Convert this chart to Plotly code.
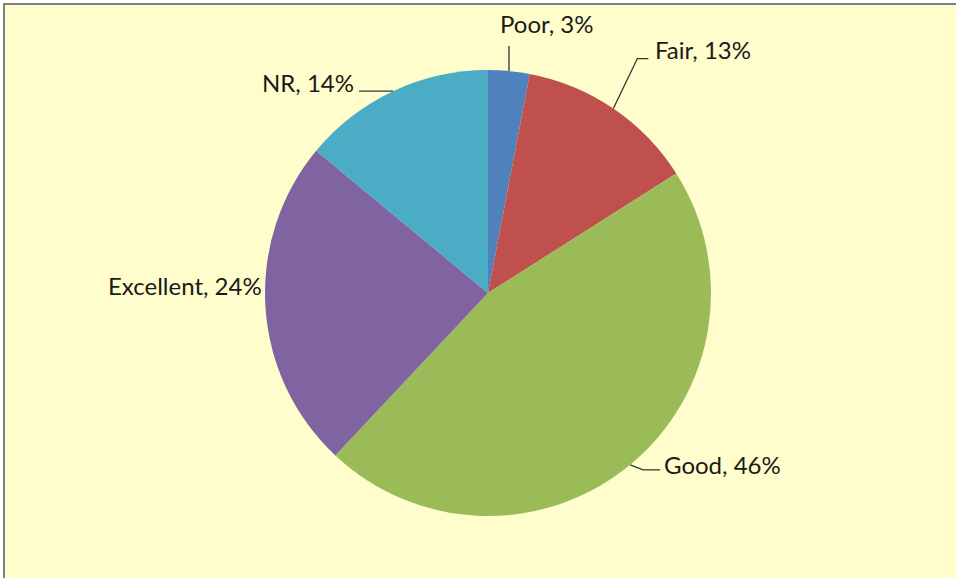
import math
import plotly.graph_objects as go

categories = ["Poor", "Fair", "Good", "Excellent", "NR"]
values = [3, 13, 46, 24, 14]
colors = ["#4F81BD", "#C0504D", "#9BBB59", "#8064A2", "#4BACC6"]

W, H = 956, 578
CX, CY, R = 488, 293, 223  # pie centre / radius in pixels


def px(x):
    return x / W


def py(y):
    return 1 - y / H


fig = go.Figure(go.Pie(
    labels=categories,
    values=values,
    marker=dict(colors=colors, line=dict(width=0)),
    sort=False,
    direction="clockwise",
    rotation=0,
    textinfo="none",
    hoverinfo="skip",
    showlegend=False,
    domain=dict(x=[px(CX - R), px(CX + R)], y=[py(CY + R), py(CY - R)]),
))

# label placement (pixel text centres) and leader-line offsets from slice edge point
label_pos = {
    "Poor": dict(tx=547, ty=24, line=[(0, 0), (0, -25)]),
    "Fair": dict(tx=703, ty=50, line=[(0, 0), (24, -50), (35, -50)]),
    "Good": dict(tx=722, ty=464, line=[(0, 0), (13, 5), (30, 5)]),
    "Excellent": dict(tx=185, ty=285, line=None),
    "NR": dict(tx=308, ty=83, line=[(0, 0), (-34, 0)]),
}

total = sum(values)
cum = 0
shapes = []
annotations = []
for cat, v in zip(categories, values):
    mid = (cum + v / 2) / total * 2 * math.pi
    cum += v
    ex = CX + R * math.sin(mid)
    ey = CY - R * math.cos(mid)
    pct = round(v / total * 100)
    info = label_pos[cat]
    annotations.append(dict(
        x=px(info["tx"]), y=py(info["ty"]), xref="paper", yref="paper",
        text=f"{cat}, {pct}%", showarrow=False,
        font=dict(family="Lato, Open Sans, sans-serif", size=24, color="#1a1a1a"),
        xanchor="center", yanchor="middle",
    ))
    if info["line"]:
        pts = info["line"]
        path = "M " + " L ".join(f"{px(ex + dx)},{py(ey + dy)}" for dx, dy in pts)
        shapes.append(dict(type="path", path=path, xref="paper", yref="paper",
                           line=dict(color="#333333", width=1.3)))

# background panel with grey top/left border
shapes.insert(0, dict(type="rect", xref="paper", yref="paper", layer="below",
                      x0=px(4), x1=1, y0=0, y1=py(4),
                      fillcolor="#FFFDCC", line=dict(width=0)))
shapes.append(dict(type="line", xref="paper", yref="paper",
                   x0=px(3), x1=1, y0=py(4), y1=py(4),
                   line=dict(color="#808080", width=2)))
shapes.append(dict(type="line", xref="paper", yref="paper",
                   x0=px(4), x1=px(4), y0=0, y1=py(3),
                   line=dict(color="#808080", width=2)))

fig.update_layout(
    width=W, height=H,
    margin=dict(l=0, r=0, t=0, b=0),
    paper_bgcolor="white",
    plot_bgcolor="white",
    shapes=shapes,
    annotations=annotations,
)

fig.write_html(
    "out.html",
    config=dict(displayModeBar=False),
    post_script="document.body.style.margin='0px';document.body.style.overflow='hidden';",
)
